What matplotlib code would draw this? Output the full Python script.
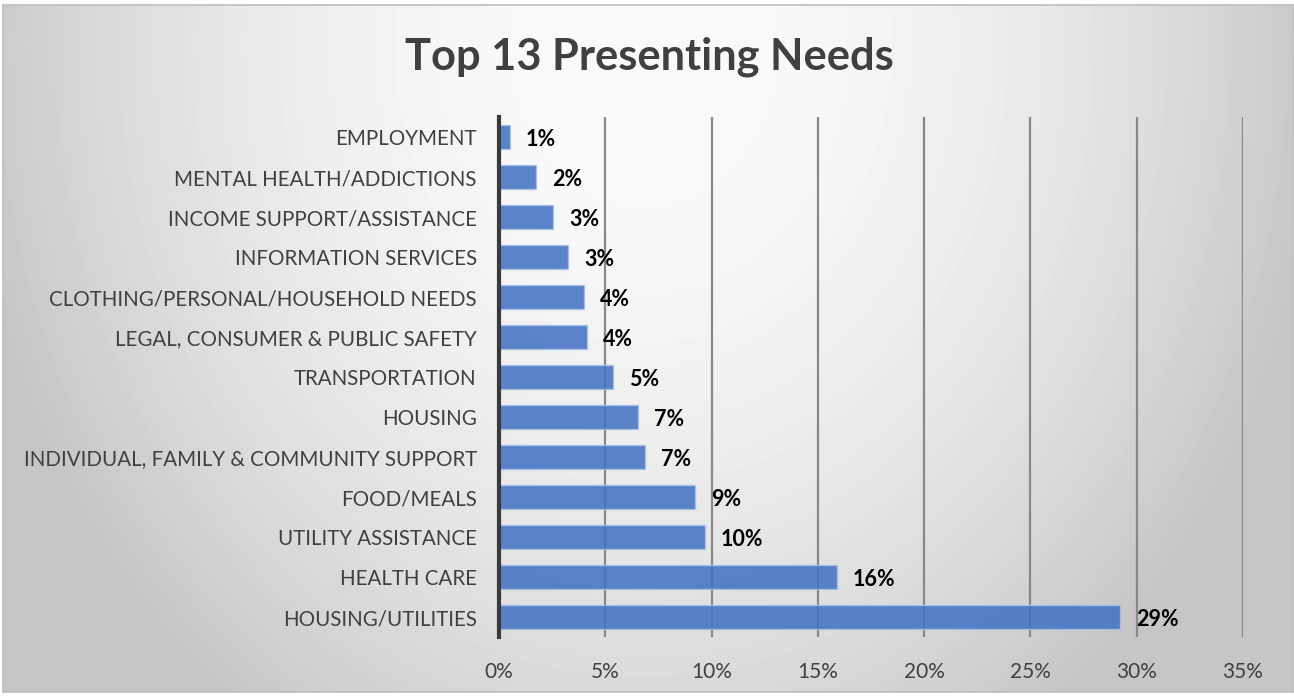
import numpy as np
from matplotlib import pyplot as plt

# Presenting needs, share of all contacts (%)
categories = [
    "EMPLOYMENT",
    "MENTAL HEALTH/ADDICTIONS",
    "INCOME SUPPORT/ASSISTANCE",
    "INFORMATION SERVICES",
    "CLOTHING/PERSONAL/HOUSEHOLD NEEDS",
    "LEGAL, CONSUMER & PUBLIC SAFETY",
    "TRANSPORTATION",
    "HOUSING",
    "INDIVIDUAL, FAMILY & COMMUNITY SUPPORT",
    "FOOD/MEALS",
    "UTILITY ASSISTANCE",
    "HEALTH CARE",
    "HOUSING/UTILITIES",
]
shares = [0.52, 1.74, 2.54, 3.25, 4.0, 4.14, 5.36, 6.54, 6.87, 9.22, 9.69, 15.9, 29.2]
x_ticks = [0, 5, 10, 15, 20, 25, 30, 35]

W, H = 1294, 696
plt.rcParams["font.family"] = ["Lato", "DejaVu Sans"]

fig = plt.figure(figsize=(W / 100, H / 100), dpi=100, facecolor="white")

# soft radial backdrop for the chart area
bg = fig.add_axes([3 / W, 4 / H, 1290 / W, 687 / H], zorder=0)
yy, xx = np.mgrid[0:687, 0:1290]
d2 = ((xx - 640) / 680.0) ** 2 + ((yy - 40) / 820.0) ** 2
shade = np.clip(250 - 52 * d2, 198, 250) / 255.0
bg.imshow(shade, cmap="gray", vmin=0, vmax=1, aspect="auto", interpolation="bilinear")
bg.set_xticks([])
bg.set_yticks([])
for s in bg.spines.values():
    s.set_color("#bdbdbd")
    s.set_linewidth(1.2)

ax = fig.add_axes([499 / W, 1 - 637 / H, (1243 - 499) / W, (637 - 117) / H], zorder=1)
ax.patch.set_alpha(0)

y = np.arange(len(categories))
ax.barh(y, shares, height=0.6, color="#4472C4", alpha=0.87,
        edgecolor="#a9c1ea", linewidth=1.0, zorder=3)

for yi, v in zip(y, shares):
    ax.text(v + 0.75, yi + 0.06, f"{v:.0f}%", va="center", ha="left",
            fontsize=15.5, fontweight="bold", color="black", zorder=4)

ax.set_xlim(0, 35)
ax.set_ylim(len(categories) - 0.5, -0.5)
ax.set_xticks(x_ticks)
ax.set_xticklabels([f"{t}%" for t in x_ticks])
ax.set_yticks(y)
ax.set_yticklabels(categories)
ax.tick_params(axis="x", length=0, pad=18, labelsize=15, labelcolor="#404040")
ax.tick_params(axis="y", length=0, pad=16, labelsize=14.8, labelcolor="#404040")

ax.grid(axis="x", color="#888888", linewidth=1.6, zorder=1)
ax.set_axisbelow(True)
for side in ("top", "right", "bottom"):
    ax.spines[side].set_visible(False)
ax.spines["left"].set_color("#3a3a3a")
ax.spines["left"].set_linewidth(3)
ax.spines["left"].set_zorder(5)

fig.text(649 / W, 1 - 57 / H, "Top 13 Presenting Needs", ha="center", va="center",
         fontsize=31.2, fontweight="bold", color="#404040")

fig.savefig("out.png", dpi=100, facecolor=fig.get_facecolor())
